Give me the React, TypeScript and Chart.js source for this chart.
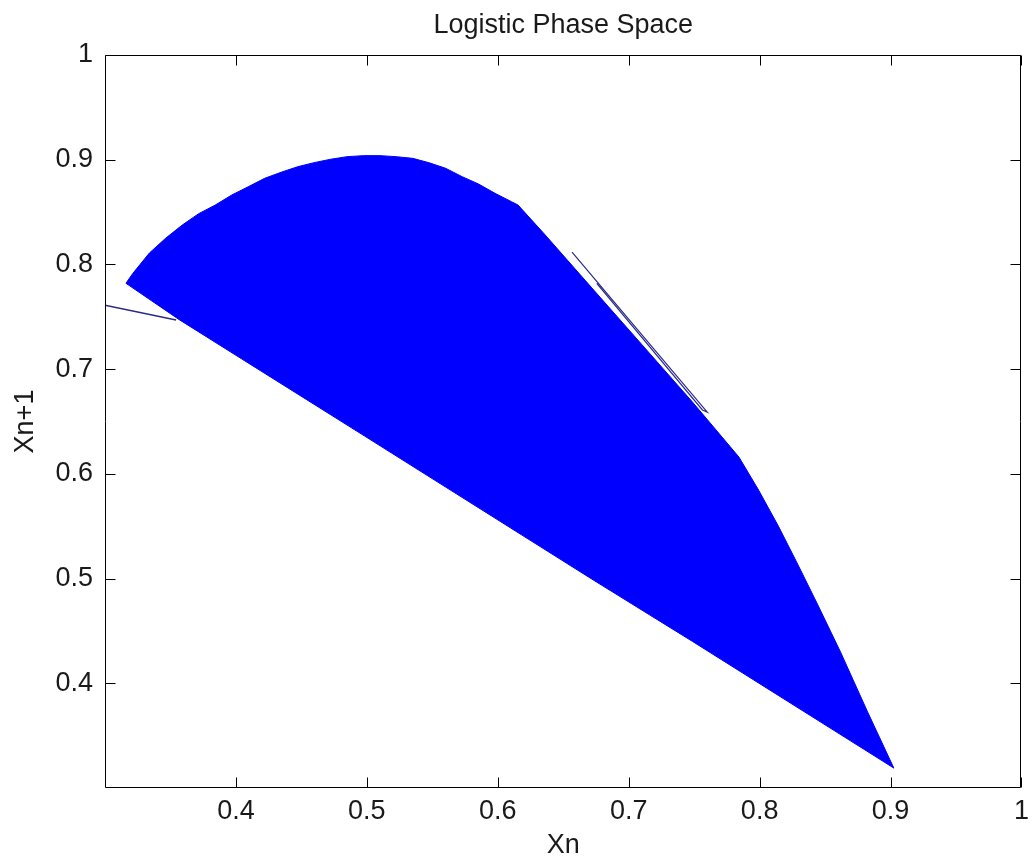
import { useEffect, useRef } from 'react';
import { Chart, registerables } from 'chart.js';

Chart.register(...registerables);

// Upper edge of the filled phase-space region (left tip -> right tip)
const upperX = [0.316, 0.3213, 0.3339, 0.3465, 0.359, 0.3716, 0.3842, 0.3968, 0.4094, 0.4219, 0.4345, 0.4471, 0.4597, 0.4722, 0.4848, 0.4974, 0.51, 0.5225, 0.5351, 0.5476, 0.5602, 0.5728, 0.5853, 0.5979, 0.6105, 0.6155, 0.6356, 0.6733, 0.711, 0.7487, 0.7842, 0.7992, 0.8143, 0.8294, 0.8445, 0.8618, 0.8822, 0.9025];
const upperY = [0.782, 0.7915, 0.8109, 0.8252, 0.8376, 0.8485, 0.8567, 0.8663, 0.8742, 0.8822, 0.888, 0.8933, 0.8972, 0.9004, 0.9029, 0.9039, 0.9039, 0.9029, 0.9013, 0.8971, 0.8918, 0.8838, 0.8768, 0.8679, 0.8599, 0.8567, 0.829, 0.7755, 0.7221, 0.6686, 0.616, 0.5845, 0.5501, 0.5129, 0.4747, 0.4298, 0.3734, 0.319];
// Lower edge (right tip -> left tip)
const lowerX = [0.7487, 0.673, 0.4983, 0.357, 0.316];
const lowerY = [0.44, 0.4986, 0.6361, 0.747, 0.782];
// Stray trajectory segments
const strayAX = [0.3, 0.3543];
const strayAY = [0.761, 0.747];
const strayBX = [0.6567, 0.76, 0.7563, 0.6756];
const strayBY = [0.8118, 0.659, 0.661, 0.782];

const xTickValues = [0.4, 0.5, 0.6, 0.7, 0.8, 0.9, 1];
const yTickValues = [0.4, 0.5, 0.6, 0.7, 0.8, 0.9, 1];

const toPts = (xs: number[], ys: number[]) => xs.map((x, i) => ({ x, y: ys[i] }));

const FONT = '"Liberation Sans", Arial, sans-serif';
const TEXT = '#1a1a1a';
const FS = 27;

const framePlugin = {
  id: 'frame',
  afterDraw(chart: any) {
    const { ctx, chartArea } = chart;
    const { left, right, top, bottom } = chartArea;
    const xs = chart.scales.x;
    const ys = chart.scales.y;
    const L = Math.round(left) + 0.5;
    const R = Math.round(right) - 0.5;
    const T = Math.round(top) + 0.5;
    const B = Math.round(bottom) - 0.5;
    const tl = 10;
    ctx.save();
    ctx.strokeStyle = '#000';
    ctx.lineWidth = 1;
    ctx.beginPath();
    ctx.rect(L, T, R - L, B - T);
    xs.ticks.forEach((t: any) => {
      const p = Math.round(xs.getPixelForValue(t.value)) + 0.5;
      ctx.moveTo(p, B);
      ctx.lineTo(p, B - tl);
      ctx.moveTo(p, T);
      ctx.lineTo(p, T + tl);
    });
    ys.ticks.forEach((t: any) => {
      const p = Math.round(ys.getPixelForValue(t.value)) + 0.5;
      ctx.moveTo(L, p);
      ctx.lineTo(L + tl, p);
      ctx.moveTo(R, p);
      ctx.lineTo(R - tl, p);
    });
    ctx.stroke();
    ctx.restore();
  },
};

export default function App() {
  const ref = useRef<HTMLCanvasElement | null>(null);

  useEffect(() => {
    if (!ref.current) return;
    const chart = new Chart(ref.current, {
      type: 'line',
      data: {
        datasets: [
          {
            data: toPts(strayAX, strayAY),
            borderColor: '#2a2a8c',
            borderWidth: 1.5,
            pointRadius: 0,
            tension: 0,
            fill: false,
            order: 0,
          },
          {
            data: toPts(strayBX, strayBY),
            borderColor: '#2a2a8c',
            borderWidth: 1.2,
            pointRadius: 0,
            tension: 0,
            fill: false,
            order: 0,
          },
          {
            data: toPts(upperX.concat(lowerX), upperY.concat(lowerY)),
            borderColor: '#0000ff',
            backgroundColor: '#0000ff',
            borderWidth: 1,
            pointRadius: 0,
            tension: 0,
            fill: 'shape',
            order: 1,
          },
        ],
      },
      options: {
        animation: false,
        responsive: false,
        devicePixelRatio: 1,
        layout: { padding: { left: 0, right: 3, top: 0, bottom: 0 } },
        plugins: {
          legend: { display: false },
          tooltip: { enabled: false },
          title: {
            display: true,
            text: 'Logistic Phase Space',
            fullSize: false,
            color: TEXT,
            font: { family: FONT, size: FS, weight: 'normal', lineHeight: 1.2 },
            padding: { top: 9.4, bottom: 13.2 },
          },
        },
        scales: {
          x: {
            type: 'linear',
            min: 0.3,
            max: 1,
            afterBuildTicks: (s: any) => {
              s.ticks = xTickValues.map((v) => ({ value: v }));
            },
            afterFit: (s: any) => {
              s.height = 72;
            },
            grid: { display: false, drawTicks: false },
            border: { display: false },
            ticks: {
              color: TEXT,
              padding: 7,
              maxRotation: 0,
              autoSkip: false,
              font: { family: FONT, size: FS, lineHeight: 1.2 },
              callback: (v: any) => String(Math.round(Number(v) * 10) / 10),
            },
            title: {
              display: true,
              text: 'Xn',
              color: TEXT,
              font: { family: FONT, size: FS, lineHeight: 1 },
              padding: { top: 0, bottom: 1 },
            },
          },
          y: {
            type: 'linear',
            min: 0.3,
            max: 1,
            afterBuildTicks: (s: any) => {
              s.ticks = yTickValues.map((v) => ({ value: v }));
            },
            afterFit: (s: any) => {
              s.width = 105;
            },
            grid: { display: false, drawTicks: false },
            border: { display: false },
            ticks: {
              color: TEXT,
              padding: 12,
              autoSkip: false,
              font: { family: FONT, size: FS, lineHeight: 1.2 },
              callback: (v: any) => String(Math.round(Number(v) * 10) / 10),
            },
            title: {
              display: true,
              text: 'Xn+1',
              color: TEXT,
              font: { family: FONT, size: FS, lineHeight: 1.2 },
              padding: { top: 9, bottom: 0 },
            },
          },
        },
      },
      plugins: [framePlugin],
    } as any);
    return () => chart.destroy();
  }, []);

  return (
    <div style={{ position: 'absolute', left: 0, top: 0, width: 1036, height: 860, background: '#fff' }}>
      <canvas ref={ref} width={1036} height={860} style={{ display: 'block' }} />
    </div>
  );
}
